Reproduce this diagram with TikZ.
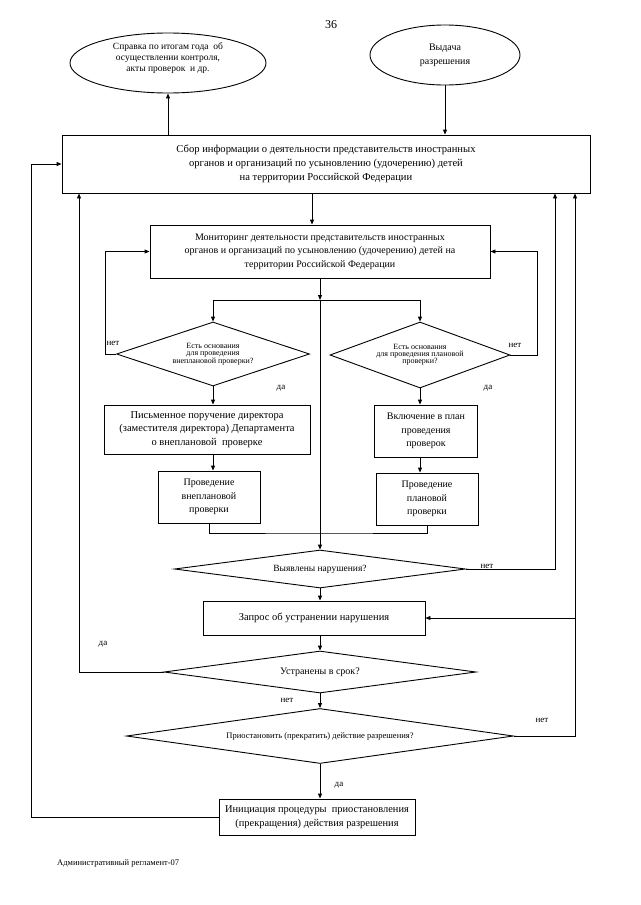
\documentclass[tikz,border=0pt]{standalone}
\usepackage{fontspec}
\setmainfont{Liberation Serif}
\usetikzlibrary{shapes.geometric,arrows.meta}
\begin{document}
\begin{tikzpicture}[x=1pt,y=-1pt,
  box/.style={draw, line width=0.9pt, inner sep=0pt, align=center, font=\fontsize{10}{13.5}\selectfont},
  dia/.style={draw, diamond, line width=0.9pt, inner sep=0pt, align=center},
  ell/.style={draw, ellipse, line width=0.9pt, inner sep=0pt, align=center},
  arr/.style={-{Triangle[length=5pt,width=4pt]}, line width=0.9pt},
  ln/.style={line width=0.9pt},
  lbl/.style={font=\fontsize{9}{10}\selectfont, inner sep=0pt}]
\useasboundingbox (0,0) rectangle (640,905);

\node[font=\fontsize{12}{14}\selectfont] (pg) at (331,25) {36};

\node[ell, minimum width=196pt, minimum height=60pt] (e1) at (168,63) {};
\node[align=center, inner sep=0pt, font=\fontsize{9.5}{11}\selectfont] (e1t) at (168,58)
  {Справка по итогам года\ \ об\\осуществлении контроля,\\акты проверок\ \ и др.};
\node[ell, minimum width=150pt, minimum height=60pt, font=\fontsize{10}{14}\selectfont] (e2) at (445,55)
  {Выдача\\разрешения};

\node[box, minimum width=528pt, minimum height=58pt, font=\fontsize{10.6}{14}\selectfont] (box1) at (326,164)
  {Сбор информации о деятельности представительств иностранных\\органов и организаций по усыновлению (удочерению) детей\\на территории Российской Федерации};

\node[box, minimum width=340pt, minimum height=53pt] (box2) at (320,251.5)
  {Мониторинг деятельности представительств иностранных\\органов и организаций по усыновлению (удочерению) детей на\\территории Российской Федерации};

\node[dia, aspect=3.0, minimum width=193pt, minimum height=64pt, font=\fontsize{8}{7}\selectfont] (dA) at (213,354)
  {Есть основания\\для проведения\\внеплановой проверки?};
\node[dia, aspect=2.73, minimum width=180pt, minimum height=66pt, font=\fontsize{8}{7}\selectfont] (dB) at (420,355)
  {Есть основания\\для проведения плановой\\проверки?};

\node[box, minimum width=206pt, minimum height=49pt, font=\fontsize{10.5}{13.5}\selectfont] (a1) at (207,429.5)
  {Письменное поручение директора\\(заместителя директора) Департамента\\о внеплановой\ \ проверке};
\node[box, minimum width=102pt, minimum height=52pt] (a2) at (209,497)
  {Проведение\\внеплановой\\проверки};
\node[box, minimum width=103pt, minimum height=52pt] (b1) at (426,431)
  {Включение в план\\проведения\\проверок};
\node[box, minimum width=102pt, minimum height=52pt] (b2) at (427,499)
  {Проведение\\плановой\\проверки};

\node[dia, aspect=7.66, minimum width=291pt, minimum height=38pt, font=\fontsize{9.5}{10}\selectfont] (dC) at (320,569)
  {Выявлены нарушения?};
\node[box, minimum width=222pt, minimum height=34pt, font=\fontsize{10.5}{13.5}\selectfont] (zap) at (314,618)
  {Запрос об устранении нарушения};
\node[dia, aspect=7.43, minimum width=312pt, minimum height=42pt, font=\fontsize{10}{12}\selectfont] (dD) at (320,672)
  {Устранены в срок?};
\node[dia, aspect=7.04, minimum width=387pt, minimum height=55pt, font=\fontsize{8.5}{9}\selectfont] (dE) at (320,736)
  {Приостановить (прекратить) действие разрешения?};
\node[box, minimum width=196pt, minimum height=36pt, font=\fontsize{10.4}{13.5}\selectfont] (init) at (317,817)
  {Инициация процедуры\ \ приостановления\\(прекращения) действия разрешения};

\node[anchor=west, font=\fontsize{8.5}{9}\selectfont, inner sep=0pt] (foot) at (57,863) {Административный регламент-07};

% labels
\node[lbl] (nA) at (113,343) {нет};
\node[lbl] (nB) at (515,345) {нет};
\node[lbl] (yA) at (281,388) {да};
\node[lbl] (yB) at (488,388) {да};
\node[lbl] (nC) at (487,566) {нет};
\node[lbl] (yD) at (103,644) {да};
\node[lbl] (nD) at (287,700) {нет};
\node[lbl] (nE) at (542,720) {нет};
\node[lbl] (yE) at (339,785) {да};

% helper coordinates
\coordinate (x312) at (312,0);
\coordinate (j) at (320,300);
\coordinate (jj) at (320,533);
\coordinate (lA) at (105,0);
\coordinate (lB) at (537,0);
\coordinate (r1) at (555,0);
\coordinate (r2) at (575,0);
\coordinate (l1) at (79,0);
\coordinate (l0) at (31,0);

% connectors
\draw[arr] (box1.north -| e1.south) -- (e1.south);
\draw[arr] (e2.south) -- (e2.south |- box1.north);
\draw[arr] (box1.south -| x312) -- (box2.north -| x312);
\draw[arr] (box2.south) -- (j);
\draw[arr] (j) -| (dA.north);
\draw[arr] (j) -| (dB.north);
\draw[arr] (j) -- (dC.north);
\draw[arr] (dA.west) -- (dA.west -| lA) |- (box2.west);
\draw[arr] (dB.east) -- (dB.east -| lB) |- (box2.east);
\draw[arr] (dA.south) -- (dA.south |- a1.north);
\draw[arr] (a1.south -| dA.south) -- (a2.north -| dA.south);
\draw[arr] (dB.south) -- (dB.south |- b1.north);
\draw[arr] (b1.south -| dB.south) -- (b2.north -| dB.south);
\draw[ln] (a2.south) |- (jj) -| (b2.south);
\draw[arr] (dC.east) -| (r1 |- box1.south);
\draw[arr] (dC.south) -- (zap.north -| dC.south);
\draw[arr] (zap.south -| dD.north) -- (dD.north);
\draw[arr] (dD.west) -| (l1 |- box1.south);
\draw[arr] (dD.south) -- (dE.north);
\draw[arr] (dE.east) -| (r2 |- box1.south);
\draw[arr] (r2 |- zap.east) -- (zap.east);
\draw[arr] (dE.south) -- (dE.south |- init.north);
\draw[arr] (init.west) -| (l0 |- box1.west) -- (box1.west);
\end{tikzpicture}
\end{document}
